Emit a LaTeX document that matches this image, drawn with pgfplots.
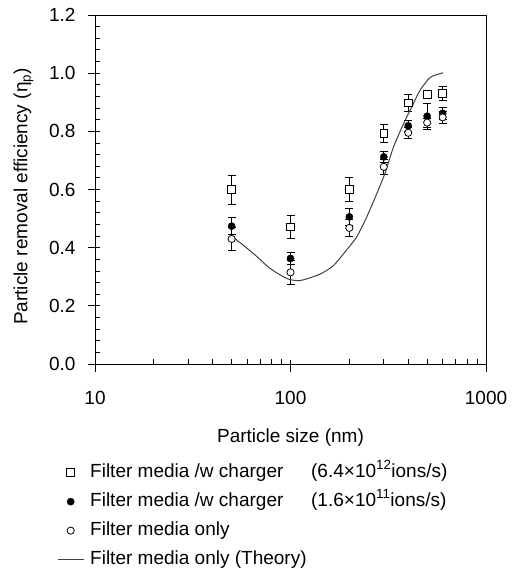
\documentclass[border=0pt]{standalone}
\usepackage{fontspec}
\setmainfont{Liberation Sans}
\usepackage{pgfplots}
\pgfplotsset{compat=1.18}
\newcommand\ff{\fontsize{19bp}{22bp}\selectfont}
\begin{document}
\begin{tikzpicture}[x=1bp,y=1bp]
\useasboundingbox (0,0) rectangle (512,571);
\begin{axis}[
  at={(95bp,207bp)}, anchor=south west,
  scale only axis, width=391bp, height=349bp,
  xmode=log, xmin=10, xmax=1000, ymin=0, ymax=1.2,
  xtick={10,100,1000}, xticklabels={10,100,1000},
  minor xtick={20,30,40,50,60,70,80,90,200,300,400,500,600,700,800,900},
  ytick={0,0.2,0.4,0.6,0.8,1.0,1.2}, minor y tick num=4,
  yticklabel style={/pgf/number format/.cd, fixed, fixed zerofill, precision=1},
  /pgf/number format/assume math mode=true,
  xtick pos=left, ytick pos=left,
  tick align=inside, major tick length=12bp, minor tick length=5bp,
  every major x tick/.append style={yshift=-8bp},
  every major y tick/.append style={xshift=-7bp},
  tick style={black, line width=0.8bp},
  axis line style={black, line width=0.8bp},
  xticklabel shift=24bp, yticklabel shift=16bp,
  tick label style={font=\ff},
  label style={font=\ff},
  xlabel={Particle size (nm)},
  ylabel={Particle removal efficiency (η\textsubscript{p})},
  xlabel style={at={(axis description cs:0.5,-0.212)}, anchor=center},
  ylabel style={at={(axis description cs:-0.183,0.48)}, anchor=center},
  legend style={at={(axis description cs:-0.0972,-0.2835)}, anchor=north west, draw=none, fill=none, inner sep=0pt, row sep=10bp, font=\ff, nodes={inner sep=1bp, text height=13bp, text depth=4bp}, /tikz/every odd column/.append style={column sep=5bp}},
  legend cell align=left,
  legend image code/.code={\draw[mark repeat=2,mark phase=2,#1] plot coordinates {(0bp,0bp) (13bp,0bp) (26bp,0bp)};},
  error bars/error bar style={black, line width=0.8bp},
  error bars/error mark options={rotate=90, mark size=4bp, line width=0.8bp},
]
\addplot[only marks, mark=square*, mark size=3.8bp, mark options={fill=white, draw=black, line width=0.8bp},
  error bars/.cd, y dir=both, y explicit]
  coordinates {(50,0.60) +- (0,0.05) (100,0.472) +- (0,0.04) (200,0.60) +- (0,0.04) (300,0.793) +- (0,0.03) (400,0.898) +- (0,0.03) (500,0.927) +- (0,0.012) (600,0.93) +- (0,0.025)};
\addlegendentry{\makebox[221bp][l]{Filter media /w charger}(6.4×10\textsuperscript{12}ions/s)}
\addplot[only marks, mark=*, mark size=3.6bp, mark options={fill=black, draw=black},
  error bars/.cd, y dir=both, y explicit]
  coordinates {(50,0.474) +- (0,0.03) (100,0.363) +- (0,0.02) (200,0.506) +- (0,0.03) (300,0.712) +- (0,0.02) (400,0.819) +- (0,0.02) (500,0.852) +- (0,0.045) (600,0.862) +- (0,0.02)};
\addlegendentry{\makebox[221bp][l]{Filter media /w charger}(1.6×10\textsuperscript{11}ions/s)}
\addplot[only marks, mark=*, mark size=3.6bp, mark options={fill=white, draw=black, line width=0.8bp},
  error bars/.cd, y dir=both, y explicit]
  coordinates {(50,0.43) +- (0,0.04) (100,0.315) +- (0,0.04) (200,0.468) +- (0,0.03) (300,0.678) +- (0,0.025) (400,0.795) +- (0,0.02) (500,0.83) +- (0,0.015) (600,0.848) +- (0,0.02)};
\addlegendentry{Filter media only}
\addplot[no marks, smooth, tension=0.4, color=black!75, line width=1bp]
  coordinates {(50,0.44) (64.6,0.38) (78.5,0.329) (95.6,0.294) (107,0.287) (116,0.289) (141.6,0.309) (165.6,0.338) (193.6,0.392) (218,0.437) (245.6,0.506) (276,0.585) (304,0.655) (336,0.745) (378,0.825) (425,0.895) (459,0.94) (517,0.985) (593,1.0) (600,1.0)};
\addlegendentry{Filter media only (Theory)}
\end{axis}
\end{tikzpicture}
\end{document}
